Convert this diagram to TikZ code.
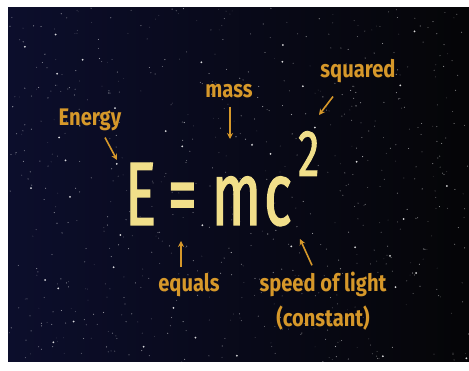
\documentclass[tikz,border=0pt]{standalone}
\usepackage{fontspec}
\usepackage{tikz}
\usetikzlibrary{arrows.meta}
\setmainfont{Fira Sans}
\newfontfamily\labelfont[FakeStretch=0.84]{Fira Sans}
\newfontfamily\eqfont[FakeStretch=0.64,FakeBold=1.4]{Fira Sans}
\definecolor{skytop}{HTML}{0C0E2C}
\definecolor{skyend}{HTML}{050507}
\definecolor{labelgold}{HTML}{D6982A}
\definecolor{eqyellow}{HTML}{F1DF8A}
\tikzset{
  word/.style={anchor=base, inner sep=0pt, text=labelgold,
    font=\labelfont\bfseries\fontsize{24}{28}\selectfont},
  pointer/.style={draw=labelgold, line width=1.6pt, -{Stealth[length=6pt,width=6pt]}},
}

\begin{document}
\begin{tikzpicture}[x=1pt,y=-1pt]
\useasboundingbox (0,0) rectangle (469,371);
\fill[white] (0,0) rectangle (469,371);

% night sky
\shade[left color=skytop, right color=skyend] (8,8) rectangle (469,362);
\pgfmathsetseed{4711}
\foreach \k in {1,...,700}{
  \pgfmathsetmacro\sx{8+rnd*461}
  \pgfmathsetmacro\sy{8+rnd*354}
  \pgfmathsetmacro\so{0.12+0.55*rnd}
  \fill[white, opacity=\so] (\sx,\sy) circle (0.55pt);
}
\foreach \k in {1,...,45}{
  \pgfmathsetmacro\sx{8+rnd*461}
  \pgfmathsetmacro\sy{8+rnd*354}
  \fill[white, opacity=0.85] (\sx,\sy) circle (1pt);
}

% equation
\node[anchor=base west, inner sep=0pt, text=eqyellow,
  font=\eqfont\fontsize{90}{90}\selectfont] (eq) at (125,225)
  {E\kern12pt=\kern15pt m\kern3pt c\kern-5pt};
\node[anchor=base west, inner sep=0pt, text=eqyellow,
  font=\eqfont\fontsize{66}{66}\selectfont] (sq) at (298,176) {2};

% labels
\node[word] (energy) at (90,126) {Energy};
\node[word] (mass) at (229,98) {mass};
\node[word] (squared) at (358,78) {squared};
\node[word] (equals) at (189,292) {equals};
\node[word] (speed) at (323,292) {speed of light};
\node[word] (const) at (323,327) {(constant)};

% arrow tips
\coordinate (Etip) at (117,160);
\coordinate (mtip) at (230,139);
\coordinate (sqtip) at (319,115);
\coordinate (eqtip) at (181,241);
\coordinate (ctip) at (300,239);

\draw[pointer] ([xshift=15pt,yshift=-6pt]energy.south) -- (Etip);
\draw[pointer] ([xshift=1pt,yshift=-8pt]mass.south) -- (mtip);
\draw[pointer] ([xshift=-25pt,yshift=-13pt]squared.south) -- (sqtip);
\draw[pointer] ([xshift=-8pt,yshift=7pt]equals.north) -- (eqtip);
\draw[pointer] ([xshift=-11pt,yshift=7pt]speed.north) -- (ctip);
\end{tikzpicture}
\end{document}
